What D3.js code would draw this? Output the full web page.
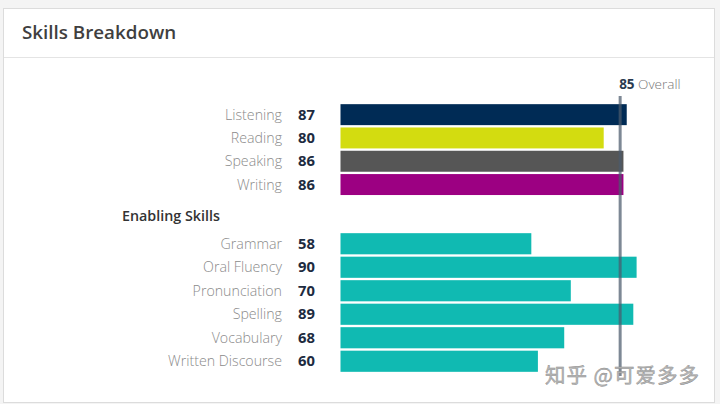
<!DOCTYPE html>
<html><head><meta charset="utf-8">
<script src="https://cdn.jsdelivr.net/npm/d3@7"></script>
<style>
html,body{margin:0;padding:0;background:#f4f4f4;}
svg{display:block;}
</style></head>
<body>
<svg id="chart" width="720" height="404"></svg>
<script>
const title = "Skills Breakdown";
const sectionTitle = "Enabling Skills";
const commSkills = ["Listening", "Reading", "Speaking", "Writing"];
const commScores = [87, 80, 86, 86];
const commColors = ["#002b55", "#d3dc10", "#565656", "#9c0082"];
const enablingSkills = ["Grammar", "Oral Fluency", "Pronunciation", "Spelling", "Vocabulary", "Written Discourse"];
const enablingScores = [58, 90, 70, 89, 68, 60];
const enablingColor = "#10bab2";
const overallScore = 85;
const overallLabel = "Overall";
const watermark = "知乎 @可爱多多";

const svg = d3.select("#chart");
const font = "'Open Sans', 'Noto Sans', sans-serif";

// card
svg.append("rect").attr("x", 3.5).attr("y", 8.5).attr("width", 711).attr("height", 394)
  .attr("fill", "#fff").attr("stroke", "#dcdcdc");
svg.append("line").attr("x1", 4).attr("x2", 714).attr("y1", 57.5).attr("y2", 57.5)
  .attr("stroke", "#e4e4e4");
svg.append("text").attr("x", 22).attr("y", 39).text(title)
  .attr("font-family", font).attr("font-weight", 600).attr("font-size", 18.8).attr("fill", "#3f3f3f");

const x = d3.scaleLinear().domain([0, 100]).range([340.5, 669.5]);

function group(names, scores, colorFn, y0, step) {
  const y = d3.scaleBand().domain(names).range([y0, y0 + names.length * step])
    .paddingInner(0.1).paddingOuter(0.05);
  const g = svg.append("g");
  const rows = g.selectAll("g").data(names).join("g");
  rows.append("rect")
    .attr("x", x(0)).attr("y", d => y(d))
    .attr("width", (d, i) => x(scores[i]) - x(0)).attr("height", y.bandwidth())
    .attr("fill", (d, i) => colorFn(i));
  rows.append("text").attr("x", 282).attr("y", d => y(d) + y.bandwidth() / 2)
    .attr("dy", "0.35em").attr("text-anchor", "end").text(d => d)
    .attr("font-family", font).attr("font-weight", 300).attr("font-size", 14.2).attr("fill", "#8a8a8a");
  rows.append("text").attr("x", 298).attr("y", d => y(d) + y.bandwidth() / 2)
    .attr("dy", "0.35em").text((d, i) => scores[i])
    .attr("font-family", font).attr("font-weight", 700).attr("font-size", 14.8).attr("fill", "#1d2b40");
}

group(commSkills, commScores, i => commColors[i], 103, 23.3);
svg.append("text").attr("x", 122).attr("y", 221).text(sectionTitle)
  .attr("font-family", font).attr("font-weight", 600).attr("font-size", 14.3).attr("fill", "#333");
group(enablingSkills, enablingScores, () => enablingColor, 232, 23.5);

// overall line
const ox = x(overallScore);
svg.append("line").attr("x1", ox).attr("x2", ox).attr("y1", 96).attr("y2", 376)
  .attr("stroke", "rgba(75,90,108,0.72)").attr("stroke-width", 3);
const ot = svg.append("text").attr("x", ox - 1).attr("y", 89)
  .attr("font-family", font).attr("font-size", 13.5);
ot.append("tspan").text(overallScore).attr("font-weight", 700).attr("fill", "#2a3a50");
ot.append("tspan").text(" " + overallLabel).attr("font-weight", 300).attr("fill", "#777");

// watermark
svg.append("text").attr("x", 545).attr("y", 383).text(watermark)
  .attr("font-family", "'Noto Sans CJK SC', sans-serif").attr("font-size", 20.5)
  .attr("letter-spacing", 1)
  .attr("fill", "#b8b8b8").attr("stroke", "#8a8a8a").attr("stroke-width", 0.4);
</script>
</body></html>
